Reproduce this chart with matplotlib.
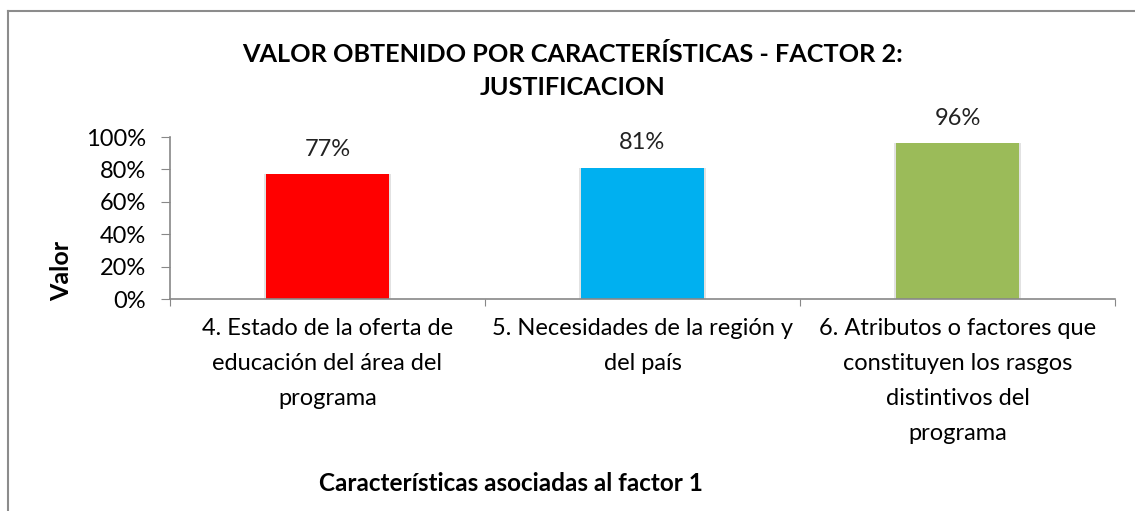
import matplotlib.pyplot as plt
from matplotlib.lines import Line2D

categories = [
    "4. Estado de la oferta de\neducación del área del\nprograma",
    "5. Necesidades de la región y\ndel país",
    "6. Atributos o factores que\nconstituyen los rasgos\ndistintivos del\nprograma",
]
values = [0.77, 0.81, 0.96]
value_labels = ["77%", "81%", "96%"]
colors = ["#FF0000", "#00B0F0", "#9BBB59"]
yticks = [0, 0.2, 0.4, 0.6, 0.8, 1.0]
ytick_labels = ["0%", "20%", "40%", "60%", "80%", "100%"]

plt.rcParams['font.family'] = ['Lato', 'DejaVu Sans']

fig = plt.figure(figsize=(11.35, 5.11), dpi=100)
ax = fig.add_axes([170 / 1135, 1 - 299 / 511, 945 / 1135, 162 / 511])

x = range(len(values))
# soft shadow behind bars
ax.bar(x, values, width=0.405, color="#e2e2e2", zorder=1)
bars = ax.bar(x, values, width=0.39, color=colors, zorder=2)
for b, lab in zip(bars, value_labels):
    ax.text(b.get_x() + b.get_width() / 2, b.get_height() + 0.155, lab,
            ha="center", va="center", fontsize=17, color="#222222")

ax.set_xlim(-0.5, 2.5)
ax.set_ylim(0, 1.0)
ax.set_yticks(yticks)
ax.set_yticklabels(ytick_labels, fontsize=17)
ax.set_xticks([-0.5, 0.5, 1.5, 2.5])
ax.set_xticklabels([])
ax.set_xticks(list(x), minor=True)
ax.set_xticklabels(categories, minor=True, fontsize=17, linespacing=1.82)
ax.tick_params(axis="x", which="minor", length=0, pad=14)
ax.tick_params(axis="x", which="major", length=5, color="#888888")
ax.tick_params(axis="y", length=6.5, color="#888888", pad=11)
for s in ["top", "right"]:
    ax.spines[s].set_visible(False)
for s in ["left", "bottom"]:
    ax.spines[s].set_color("#888888")
    ax.spines[s].set_linewidth(1.2)
ax.spines["left"].set_bounds(0, 1.0)
ax.spines["bottom"].set_zorder(3)

fig.text(573 / 1135, 1 - 71 / 511,
         "VALOR OBTENIDO POR CARACTERÍSTICAS - FACTOR 2:\nJUSTIFICACION",
         ha="center", va="center", fontsize=18.2, fontweight="bold",
         linespacing=1.55)
fig.text(62 / 1135, 1 - 271 / 511, "Valor", rotation=90, ha="center",
         va="center", fontsize=18, fontweight="bold")
fig.text(511 / 1135, 1 - 483 / 511, "Características asociadas al factor 1",
         ha="center", va="center", fontsize=17.5, fontweight="bold")

# chart frame
fig.add_artist(Line2D([8 / 1135, 8 / 1135], [0, 1 - 11.5 / 511],
                      transform=fig.transFigure, color="#8c8c8c", lw=1.5))
fig.add_artist(Line2D([8 / 1135, 1], [1 - 11.5 / 511, 1 - 11.5 / 511],
                      transform=fig.transFigure, color="#8c8c8c", lw=1.5))

fig.savefig("out.png", dpi=100)
